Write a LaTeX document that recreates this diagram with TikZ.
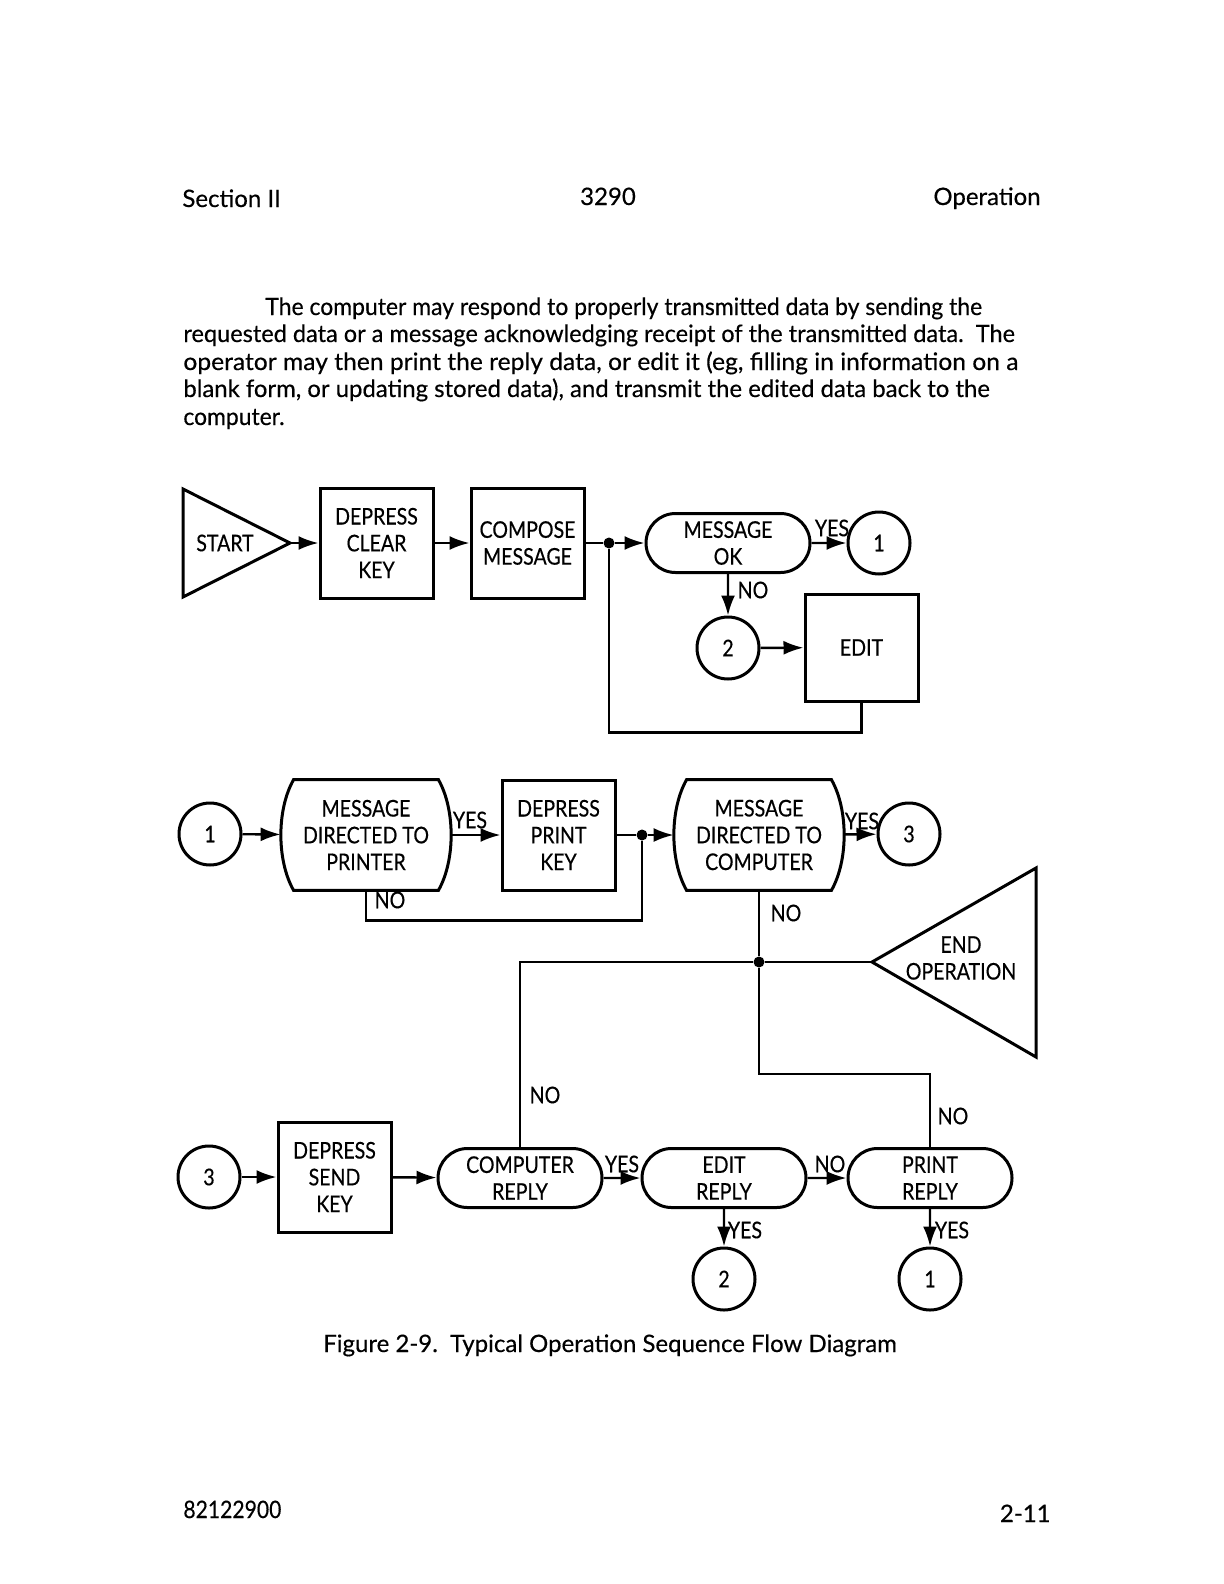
\documentclass[tikz,border=0pt]{standalone}
\usepackage{graphicx}
\usepackage{fontspec}
\setmainfont[FakeBold=0.4]{Lato}
\newfontfamily\figfont[FakeStretch=0.85,FakeBold=0.4]{Lato}
\usetikzlibrary{arrows.meta,shapes.misc}

\begin{document}
\begin{tikzpicture}[x=0.5pt,y=-0.5pt,font=\fontsize{11.5}{13.4}\selectfont\figfont,box/.style={draw, line width=1.5pt, minimum width=56.5pt, minimum height=55pt, align=center, inner sep=1pt},oval/.style={rounded rectangle, draw, line width=1.5pt, minimum width=84pt, minimum height=29.5pt, align=center, inner sep=1pt},conn/.style={circle, draw, line width=1.5pt, minimum size=31pt, inner sep=0pt},decide/.style={minimum width=85pt, minimum height=55pt, align=center, inner sep=0pt},outline/.style={line width=1.5pt, line join=miter},wire/.style={line width=1.2pt},flow/.style={line width=1.2pt, -{Latex[length=10pt,width=7pt]}},dot/.style={circle, fill, inner sep=0pt, minimum size=5.5pt},lbl/.style={inner sep=0pt},txt/.style={anchor=base west, inner sep=0pt, font=\fontsize{12}{14}\selectfont\rmfamily}]
\useasboundingbox (0,0) rectangle (1224,1584);
\node[txt] (sec) at (182,207) {Section II};\node[txt, anchor=base] (num) at (608,205) {3290};\node[txt, anchor=base east] (op) at (1041,205) {Operation};
\node[txt] (p1) at (265,315) {\scalebox{0.955}[1]{The computer may respond to properly transmitted data by sending the}};
\node[txt] (p2) at (183,342) {\scalebox{0.981}[1]{requested data or a message acknowledging receipt of the transmitted data.\ \ The}};
\node[txt] (p3) at (183,370) {\scalebox{1.026}[1]{operator may then print the reply data, or edit it (eg, filling in information on a}};
\node[txt] (p4) at (183,397) {\scalebox{0.996}[1]{blank form, or updating stored data), and transmit the edited data back to the}};
\node[txt] (p5) at (183,425) {\scalebox{0.953}[1]{computer.}};
\node[lbl] (start) at (225,543) {START};\coordinate (startpt) at (290,543);
\draw[outline] (183,489) -- (startpt) -- (183,597) -- cycle;
\node[box] (clear) at (376.5,543) {DEPRESS\\CLEAR\\KEY};\node[box] (compose) at (527.5,543) {COMPOSE\\MESSAGE};
\node[dot] (dot1) at (609,543) {};\node[oval] (mok) at (728,543) {MESSAGE\\OK};\node[conn] (c1a) at (879,543) {1};
\node[conn] (c2a) at (728,648) {2};\node[box, minimum height=53.5pt] (edit) at (861.5,647.5) {EDIT};
\draw[flow] (startpt) -- (clear);\draw[flow] (clear) -- (compose);\draw[wire] (compose) -- (dot1);\draw[flow] (dot1) -- (mok);\draw[flow] (mok) -- (c1a);\draw[flow] (mok) -- (c2a);\draw[flow] (c2a) -- (edit);
\draw[wire] (edit.south) -- ++(0,30) -| (dot1);
\node[lbl] (yes1) at (832,528) {YES};\node[lbl] (no1) at (753,590) {NO};
\node[conn] (c1b) at (210,834) {1};\node[decide] (prn) at (366,835) {MESSAGE\\DIRECTED TO\\PRINTER};\node[box] (pkey) at (558.5,835) {DEPRESS\\PRINT\\KEY};
\node[dot] (dot2) at (642,835) {};\node[decide] (cmp) at (759,835) {MESSAGE\\DIRECTED TO\\COMPUTER};\node[conn] (c3a) at (909,834) {3};
\foreach \h in {prn,cmp} \draw[outline] ([xshift=6.5pt]\h.north west) -- ([xshift=-6.5pt]\h.north east) .. controls +(17,30) and +(17,-30) .. ([xshift=-6.5pt]\h.south east) -- ([xshift=6.5pt]\h.south west) .. controls +(-17,-30) and +(-17,30) .. ([xshift=6.5pt]\h.north west) -- cycle;
\draw[flow] (c1b) -- (prn);\draw[flow] (prn) -- (pkey);\draw[wire] (pkey) -- (dot2);\draw[flow] (dot2) -- (cmp);\draw[flow] (cmp) -- (c3a);
\draw[wire] (prn.south) -- ++(0,30) -| (dot2);
\node[lbl] (yes2) at (470,820) {YES};\node[lbl] (no2) at (390,900) {NO};\node[lbl] (yes3) at (862,821) {YES};\node[lbl] (no3) at (786,913) {NO};
\node[dot] (jdot) at (759,962) {};\coordinate (endpt) at (872,962);
\draw[outline] (endpt) -- (1036,868) -- (1036,1057) -- cycle;\node[lbl, align=center] (endop) at (961,958) {END\\OPERATION};
\node[conn] (c3b) at (209,1177) {3};\node[box] (skey) at (334.5,1177) {DEPRESS\\SEND\\KEY};
\node[oval] (crep) at (520,1178) {COMPUTER\\REPLY};\node[oval] (erep) at (724,1178) {EDIT\\REPLY};\node[oval] (prep) at (930,1178) {PRINT\\REPLY};
\node[conn] (c2b) at (724,1279) {2};\node[conn] (c1c) at (930,1279) {1};
\draw[wire] (cmp.south) -- (jdot);\draw[wire] (jdot) -- (endpt);\draw[wire] (crep.north) |- (jdot);\draw[wire] (jdot) -- ++(0,112) -| (prep.north);
\draw[flow] (c3b) -- (skey);\draw[flow] (skey) -- (crep);\draw[flow] (crep) -- (erep);\draw[flow] (erep) -- (prep);\draw[flow] (erep) -- (c2b);\draw[flow] (prep) -- (c1c);
\node[lbl] (no4) at (545,1095) {NO};\node[lbl] (no5) at (953,1116) {NO};\node[lbl] (yes4) at (622,1164) {YES};\node[lbl] (no6) at (830,1164) {NO};\node[lbl] (yes5) at (745,1230) {YES};\node[lbl] (yes6) at (952,1230) {YES};
\node[txt, anchor=base] (cap) at (610,1352) {Figure 2-9.\ \ Typical Operation Sequence Flow Diagram};
\node[txt] (code) at (183,1518) {\scalebox{0.88}[1]{82122900}};\node[txt, anchor=base east] (pg) at (1051,1522) {2-11};
\end{tikzpicture}
\end{document}
